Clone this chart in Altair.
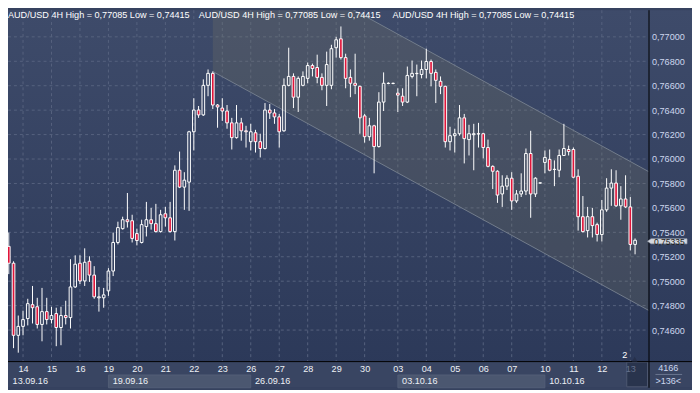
import json
import altair as alt
import pandas as pd

# ---------------- data ----------------
opens = [
    0.75422, 0.75285, 0.75147, 0.74557, 0.74630, 0.74694, 0.74808, 0.74791, 0.74646, 0.74751,
    0.74686, 0.74735, 0.74621, 0.74719, 0.74702, 0.74953, 0.75147, 0.75002, 0.75163, 0.75050,
    0.74864, 0.74864, 0.74921, 0.75083, 0.75317, 0.75430, 0.75503, 0.75495, 0.75390, 0.75317,
    0.75447, 0.75503, 0.75471, 0.75406, 0.75552, 0.75519, 0.75406, 0.75908, 0.75770, 0.75811,
    0.76223, 0.76401, 0.76361, 0.76603, 0.76701, 0.76442, 0.76417, 0.76393, 0.76296, 0.76175,
    0.76296, 0.76231, 0.76142, 0.76215, 0.76142, 0.76086, 0.76401, 0.76377, 0.76345, 0.76231,
    0.76603, 0.76676, 0.76506, 0.76603, 0.76660, 0.76765, 0.76749, 0.76668, 0.76603, 0.76603,
    0.76911, 0.76984, 0.76830, 0.76668, 0.76620, 0.76595, 0.76353, 0.76183, 0.76272, 0.76102,
    0.76466, 0.76620, 0.76618, 0.76539, 0.76514, 0.76466, 0.76676, 0.76701, 0.76692, 0.76733,
    0.76798, 0.76709, 0.76636, 0.76595, 0.76142, 0.76191, 0.76207, 0.76337, 0.76159, 0.76199,
    0.76207, 0.76207, 0.76094, 0.75940, 0.75900, 0.75714, 0.75778, 0.75843, 0.75657, 0.75714,
    0.75738, 0.76045, 0.75714, 0.75803, 0.75972, 0.75997, 0.75916, 0.75908, 0.76029, 0.76078,
    0.76078, 0.75859, 0.75528, 0.75414, 0.75528, 0.75463, 0.75382, 0.75584, 0.75762, 0.75803,
    0.75617, 0.75673, 0.75608, 0.75301,
]
highs = [
    0.75439, 0.75398, 0.75163, 0.74719, 0.74759, 0.74856, 0.74961, 0.74864, 0.74945, 0.74864,
    0.74791, 0.74783, 0.74791, 0.74840, 0.75180, 0.75212, 0.75212, 0.75269, 0.75204, 0.75123,
    0.74953, 0.74945, 0.75107, 0.75398, 0.75487, 0.75528, 0.75722, 0.75544, 0.75430, 0.75503,
    0.75649, 0.75600, 0.75633, 0.75584, 0.75608, 0.75649, 0.75948, 0.76061, 0.75892, 0.76231,
    0.76498, 0.76434, 0.76652, 0.76733, 0.76717, 0.76450, 0.76498, 0.76442, 0.76337, 0.76442,
    0.76337, 0.76272, 0.76288, 0.76239, 0.76207, 0.76458, 0.76450, 0.76409, 0.76369, 0.76660,
    0.76911, 0.76701, 0.76676, 0.76717, 0.76790, 0.76781, 0.76854, 0.76701, 0.76879, 0.76935,
    0.77000, 0.77085, 0.76862, 0.76733, 0.76862, 0.76600, 0.76369, 0.76337, 0.76280, 0.76547,
    0.76709, 0.76628, 0.76625, 0.76579, 0.76579, 0.76757, 0.76806, 0.76773, 0.76806, 0.76903,
    0.76814, 0.76733, 0.76676, 0.76600, 0.76264, 0.76248, 0.76442, 0.76369, 0.76280, 0.76288,
    0.76296, 0.76215, 0.76159, 0.75948, 0.75908, 0.75867, 0.75867, 0.75892, 0.75746, 0.75883,
    0.76086, 0.76231, 0.75851, 0.75808, 0.76070, 0.76078, 0.75989, 0.76078, 0.76288, 0.76110,
    0.76094, 0.75916, 0.75697, 0.75608, 0.75600, 0.75479, 0.75665, 0.75843, 0.75916, 0.75908,
    0.75778, 0.75867, 0.75689, 0.75350,
]
lows = [
    0.75269, 0.75058, 0.74452, 0.74415, 0.74557, 0.74638, 0.74654, 0.74613, 0.74508, 0.74646,
    0.74654, 0.74468, 0.74476, 0.74646, 0.74613, 0.74945, 0.74977, 0.74961, 0.74994, 0.74856,
    0.74751, 0.74783, 0.74880, 0.75042, 0.75301, 0.75422, 0.75439, 0.75317, 0.75293, 0.75309,
    0.75366, 0.75422, 0.75398, 0.75398, 0.75447, 0.75398, 0.75333, 0.75762, 0.75584, 0.75576,
    0.76070, 0.76337, 0.76353, 0.76514, 0.76409, 0.76256, 0.76312, 0.76248, 0.76078, 0.76167,
    0.76150, 0.76094, 0.76070, 0.76053, 0.76013, 0.76078, 0.76328, 0.76288, 0.76094, 0.76223,
    0.76595, 0.76417, 0.76385, 0.76595, 0.76620, 0.76676, 0.76620, 0.76563, 0.76434, 0.76571,
    0.76830, 0.76814, 0.76579, 0.76506, 0.76531, 0.76207, 0.76134, 0.76150, 0.75883, 0.76094,
    0.76393, 0.76612, 0.76612, 0.76385, 0.76434, 0.76458, 0.76660, 0.76514, 0.76660, 0.76660,
    0.76595, 0.76458, 0.76531, 0.76094, 0.76070, 0.76053, 0.76191, 0.75964, 0.76029, 0.75908,
    0.76094, 0.76005, 0.75932, 0.75754, 0.75641, 0.75608, 0.75746, 0.75584, 0.75641, 0.75689,
    0.75705, 0.75519, 0.75689, 0.75798, 0.75883, 0.75900, 0.75778, 0.75851, 0.76025, 0.76029,
    0.75843, 0.75414, 0.75398, 0.75358, 0.75358, 0.75325, 0.75325, 0.75568, 0.75617, 0.75608,
    0.75503, 0.75600, 0.75252, 0.75220,
]
closes = [
    0.75285, 0.75147, 0.74557, 0.74630, 0.74686, 0.74816, 0.74783, 0.74646, 0.74751, 0.74686,
    0.74719, 0.74621, 0.74719, 0.74702, 0.74953, 0.75139, 0.75002, 0.75155, 0.75050, 0.74872,
    0.74872, 0.74888, 0.75083, 0.75317, 0.75439, 0.75503, 0.75487, 0.75350, 0.75333, 0.75463,
    0.75503, 0.75471, 0.75406, 0.75544, 0.75519, 0.75406, 0.75908, 0.75770, 0.75827, 0.76223,
    0.76401, 0.76361, 0.76603, 0.76701, 0.76442, 0.76426, 0.76393, 0.76296, 0.76175, 0.76296,
    0.76231, 0.76223, 0.76223, 0.76142, 0.76086, 0.76401, 0.76377, 0.76345, 0.76223, 0.76603,
    0.76676, 0.76506, 0.76660, 0.76676, 0.76765, 0.76741, 0.76668, 0.76603, 0.76773, 0.76903,
    0.76976, 0.76830, 0.76660, 0.76620, 0.76603, 0.76337, 0.76183, 0.76272, 0.76102, 0.76466,
    0.76620, 0.76618, 0.76620, 0.76523, 0.76466, 0.76684, 0.76701, 0.76699, 0.76733, 0.76798,
    0.76701, 0.76644, 0.76595, 0.76142, 0.76191, 0.76207, 0.76337, 0.76167, 0.76207, 0.76207,
    0.76205, 0.76094, 0.75940, 0.75900, 0.75705, 0.75778, 0.75843, 0.75657, 0.75714, 0.75738,
    0.76045, 0.75714, 0.75843, 0.75805, 0.76013, 0.75908, 0.75914, 0.76029, 0.76086, 0.76061,
    0.75851, 0.75528, 0.75406, 0.75528, 0.75455, 0.75382, 0.75584, 0.75762, 0.75803, 0.75617,
    0.75673, 0.75608, 0.75301, 0.75335,
]

day_index = [4, 10, 16, 22, 28, 34, 40, 46, 52, 58, 64, 70, 76, 83, 89, 95, 101, 107, 114, 120, 126, 132]
day_labels = ["14", "15", "16", "19", "20", "21", "22", "23", "26", "27", "28", "29", "30",
              "03", "04", "05", "06", "07", "10", "11", "12", "13"]
week_start = [0, 22, 52, 83, 114]
week_end = [22, 52, 83, 114, 136]
week_labels = ["13.09.16", "19.09.16", "26.09.16", "03.10.16", "10.10.16"]
week_shaded = [False, True, False, True, False]

price_ticks = [0.746, 0.748, 0.750, 0.752, 0.754, 0.756, 0.758, 0.760,
               0.762, 0.764, 0.766, 0.768, 0.770]

channel_index = [44, 140]
channel_upper = [0.77852, 0.75809]
channel_lower = [0.76716, 0.74673]

header_text = "AUD/USD 4H High = 0,77085 Low = 0,74415"
corner_top = "4166"
corner_bottom = ">136<"
cursor_count = "2"

# ---------------- layout / style ----------------
W, H = 648, 355
FONT = "Liberation Sans"
FS = 9.2
RED = "#e0153a"
GRID = "#56627e"

xscale = alt.Scale(domain=[0.8333, 135.8333], nice=False, zero=False)
yscale = alt.Scale(domain=[0.74346, 0.77218], nice=False, zero=False)

label_expr = "%s[indexof(%s, datum.value)]" % (json.dumps(day_labels), json.dumps(day_index))
xaxis = alt.Axis(values=day_index, labelExpr=label_expr, title=None, grid=False, ticks=False,
                 domain=False, labelPadding=4, labelFont=FONT, labelFontSize=FS,
                 labelColor={"condition": {"test": "datum.value == 132", "value": "#66728c"},
                             "value": "#eef1f6"},
                 labelFlush=False, labelOverlap=False, zindex=1)
yaxis = alt.Axis(values=price_ticks, labelExpr="replace(format(datum.value, '.5f'), '.', ',')",
                 orient="right", title=None, grid=False, ticks=False, domain=False,
                 labelPadding=3, labelFont=FONT, labelFontSize=FS, labelColor="#cdd7ee",
                 labelFlush=False, labelOverlap=False, zindex=1)


def X(field):
    return alt.X(field, type="quantitative", scale=xscale, axis=xaxis)


def Y(field):
    return alt.Y(field, type="quantitative", scale=yscale, axis=yaxis)


n = len(opens)
df = pd.DataFrame({"i": list(range(n)), "open": opens, "high": highs, "low": lows, "close": closes})
df["top"] = df[["open", "close"]].max(axis=1)
df["bot"] = df[["open", "close"]].min(axis=1)
df["x1"] = df["i"] - 0.28
df["x2"] = df["i"] + 0.28
df["bear"] = df["close"] < df["open"]

one = pd.DataFrame({"k": [0]})
ticks_df = pd.DataFrame({"p": price_ticks})
days_df = pd.DataFrame({"d": day_index})
weeks_df = pd.DataFrame({"ws": week_start, "we": week_end, "w": week_labels, "shade": week_shaded})
weeks_df["wx"] = weeks_df["ws"].clip(lower=0.9) + 0.9
chan_df = pd.DataFrame({"ci": channel_index, "up": channel_upper, "lo": channel_lower})
last_df = pd.DataFrame({"c": [closes[-1]],
                        "t": [format(closes[-1], ".5f").replace(".", ",")]})

bg = alt.Chart(one).mark_rect(
    fill=alt.LinearGradient(gradient="linear", x1=0, x2=0, y1=0, y2=1,
                            stops=[alt.GradientStop(color="#3e4b6a", offset=0),
                                   alt.GradientStop(color="#2b3858", offset=1)])
).encode(x=alt.value(0), x2=alt.value(W + 44), y=alt.value(0), y2=alt.value(H + 27))

bottom_band = alt.Chart(one).mark_rect(fill="#394562").encode(
    x=alt.value(0), x2=alt.value(W + 44), y=alt.value(H), y2=alt.value(H + 27))

week_boxes = alt.Chart(weeks_df).transform_filter("datum.shade").mark_rect(
    fill="#4b5770", stroke="#56627a", strokeWidth=0.8
).encode(x=X("ws"), x2="we", y=alt.value(H + 14), y2=alt.value(H + 27))

cursor_box = alt.Chart(one).mark_rect(fill="#29344d", stroke="#4e5870", strokeWidth=1).encode(
    x=alt.value(626), x2=alt.value(647), y=alt.value(H + 1), y2=alt.value(H + 26))

hgrid = alt.Chart(ticks_df).mark_rule(color=GRID, strokeDash=[3, 3], strokeWidth=1).encode(
    y=Y("p"), x=alt.value(0), x2=alt.value(W))
vgrid = alt.Chart(days_df).mark_rule(color=GRID, strokeDash=[3, 3], strokeWidth=1).encode(
    x=X("d"), y=alt.value(0), y2=alt.value(H))

chan_fill = alt.Chart(chan_df).mark_area(clip=True, color="#8f8b62", opacity=0.18).encode(
    x=X("ci"), y=Y("up"), y2="lo")
chan_up = alt.Chart(chan_df).mark_line(clip=True, color="#727c8c", strokeWidth=1).encode(
    x=X("ci"), y=Y("up"))
chan_lo = alt.Chart(chan_df).mark_line(clip=True, color="#727c8c", strokeWidth=1).encode(
    x=X("ci"), y=Y("lo"))

wick_hi = alt.Chart(df).mark_rule(clip=True, color="#ffffff", strokeWidth=1).encode(
    x=X("i"), y=Y("high"), y2="top")
wick_lo = alt.Chart(df).mark_rule(clip=True, color="#ffffff", strokeWidth=1).encode(
    x=X("i"), y=Y("bot"), y2="low")
bodies = alt.Chart(df).mark_rect(clip=True, stroke="#ffffff", strokeWidth=1).encode(
    x=X("x1"), x2="x2", y=Y("top"), y2="bot",
    fill=alt.condition("datum.bear", alt.value(RED), alt.value("transparent")))

headers = alt.layer(*[
    alt.Chart(one).mark_text(text=header_text, align="left", baseline="top", font=FONT,
                             fontSize=FS, color="#ffffff").encode(x=alt.value(px), y=alt.value(1))
    for px in (0, 193, 389)
])

week_text = alt.Chart(weeks_df).mark_text(align="left", baseline="middle", font=FONT,
                                          fontSize=FS, color="#eef1f6").encode(
    x=X("wx"), y=alt.value(H + 20), text="w:N")

black_h = alt.Chart(one).mark_rule(color="#000000", strokeWidth=1).encode(
    x=alt.value(0), x2=alt.value(W + 44), y=alt.value(H + 0.5))
black_v = alt.Chart(one).mark_rule(color="#000000", strokeWidth=1).encode(
    x=alt.value(W + 0.5), y=alt.value(0), y2=alt.value(H + 27))

corner1 = alt.Chart(one).mark_text(text=corner_top, font=FONT, fontSize=FS, color="#cdd7ee",
                                   baseline="middle").encode(x=alt.value(668), y=alt.value(H + 7))
corner2 = alt.Chart(one).mark_text(text=corner_bottom, font=FONT, fontSize=FS, color="#cdd7ee",
                                   baseline="middle").encode(x=alt.value(668), y=alt.value(H + 20))
corner_sep = alt.Chart(one).mark_rule(color="#6a7590", strokeWidth=1).encode(
    x=alt.value(655), x2=alt.value(682), y=alt.value(H + 13.5))
cnt = alt.Chart(one).mark_text(text=cursor_count, font=FONT, fontSize=FS, color="#ffffff",
                               baseline="middle").encode(x=alt.value(624), y=alt.value(H - 6))
tri = alt.Chart(one).mark_point(shape="triangle-up", filled=True, color="#27304a", size=30,
                                opacity=1).encode(x=alt.value(634), y=alt.value(H - 2))

marker = alt.Chart(last_df).mark_point(
    shape="M-1,0L-0.82,-0.13L1,-0.13L1,0.13L-0.82,0.13Z", size=1600, filled=True,
    fill="#d3d7df", stroke="#9aa0ae", strokeWidth=0.6, opacity=1, yOffset=1
).encode(x=alt.value(667), y=Y("c"))
marker_text = alt.Chart(last_df).mark_text(font=FONT, fontSize=8.6, color="#1c1c1c",
                                           baseline="middle", dy=1.5).encode(
    x=alt.value(669), y=Y("c"), text="t:N")

chart = alt.layer(
    bg, bottom_band, week_boxes, cursor_box, hgrid, vgrid, chan_fill, chan_up, chan_lo,
    wick_hi, wick_lo, bodies, headers, week_text, black_h, black_v,
    corner1, corner2, corner_sep, cnt, tri, marker, marker_text
).properties(
    width=W, height=H,
    autosize=alt.AutoSizeParams(type="none"),
    padding={"left": 0, "top": 0, "right": 44, "bottom": 27},
).configure(background="#36425f").configure_view(strokeWidth=0)

chart.save("out.html", embed_options={"renderer": "svg", "actions": False})
